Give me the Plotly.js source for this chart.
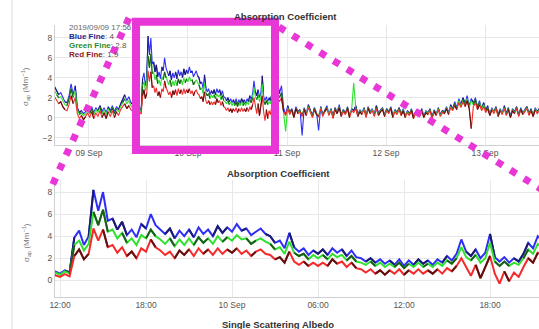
<!DOCTYPE html>
<html>
<head>
<meta charset="utf-8">
<script src="https://cdn.plot.ly/plotly-3.0.1.min.js"></script>
<style>html,body{margin:0;padding:0;background:#fff;}#chart{width:539px;height:329px;}</style>
</head>
<body>
<div id="chart"></div>
<script>
// ---- Data ----
// Section A: every 30 min, from 2019-09-08 15:40
const blueA  = [3.1,2.7,2.3,2.5,2.0,1.6,1.5,2.2,3.4,2.3,3.2,1.0,0.5,0.7,0.4,0.6,1.0,0.6,1.1,0.5,
  1.0,0.7,1.2,0.6,1.0,0.5,1.1,0.7,1.2,0.6,1.1,0.8,1.4,1.8,2.3,1.7,2.1,1.5,1.3,0.9];
const greenA = [2.7,2.3,2.0,2.1,1.7,1.3,1.2,1.9,2.9,2.0,2.7,0.8,0.3,0.5,0.2,0.4,0.8,0.4,0.9,0.3,
  0.8,0.5,1.0,0.4,0.8,0.3,0.9,0.5,1.0,0.4,0.9,0.6,1.1,1.5,1.9,1.4,1.7,1.2,1.0,0.7];
const redA   = [2.1,1.7,1.4,1.6,1.1,0.8,0.7,1.3,2.2,1.4,2.0,0.4,-0.1,0.2,-0.2,0.1,0.5,0.0,0.6,-0.1,
  0.5,0.1,0.7,0.0,0.5,-0.1,0.6,0.1,0.7,0.0,0.6,0.2,0.8,1.1,1.4,0.9,1.2,0.8,0.6,0.4];
// Section B: every 20 min, from 2019-09-09 11:40 (zoomed window)
const blueB = [0.8,0.6,0.9,0.7,3.9,4.5,3.2,4.0,8.2,6.3,
  8.0,5.4,5.6,4.6,5.3,4.1,4.6,3.9,5.1,4.7,
  6.0,5.0,4.6,4.2,4.7,3.8,4.5,4.0,4.6,3.9,
  4.8,4.2,4.6,4.0,4.9,4.3,4.8,4.4,5.1,4.5,
  4.7,4.1,4.4,4.7,4.2,4.0,3.4,3.6,2.9,4.3,
  3.0,2.6,2.9,2.3,2.7,2.4,2.8,2.3,2.9,2.5,
  2.8,2.2,2.7,2.1,2.0,1.7,2.0,1.6,1.9,1.5,
  1.8,1.4,1.9,1.3,1.8,1.4,1.9,1.5,1.8,1.4,
  1.9,1.6,2.2,1.8,2.4,3.7,2.6,2.2,2.8,2.0,
  2.5,4.2,2.1,1.7,2.1,1.6,2.0,1.7,2.4,3.4,
  2.9,4.0,3.6];
const greenB = [0.7,0.5,0.8,0.6,3.2,3.6,2.7,3.3,6.2,5.0,
  6.4,4.4,4.6,3.8,4.3,3.4,3.8,3.2,4.1,3.8,
  4.6,4.0,3.7,3.3,3.8,3.1,3.7,3.2,3.8,3.2,
  3.9,3.4,3.8,3.3,4.0,3.5,3.9,3.6,4.1,3.7,
  3.8,3.3,3.6,3.8,3.5,3.3,2.8,3.0,2.4,3.5,
  2.5,2.2,2.4,1.9,2.3,2.0,2.3,1.9,2.4,2.1,
  2.3,1.8,2.2,1.7,1.6,1.4,1.7,1.3,1.6,1.2,
  1.5,1.2,1.6,1.1,1.5,1.2,1.6,1.2,1.5,1.2,
  1.6,1.3,1.8,1.5,2.0,3.0,2.1,1.8,2.3,1.6,
  2.0,3.4,1.7,1.3,1.7,1.3,1.6,1.4,2.0,2.8,
  2.4,3.3,3.0];
const redB = [0.45,0.3,0.55,0.35,2.2,2.8,1.9,2.4,4.7,3.6,
  4.6,3.0,3.2,2.5,3.0,2.2,2.6,2.0,2.9,2.6,
  3.7,3.0,2.7,2.3,2.6,2.0,2.7,2.3,2.8,2.2,
  2.9,2.4,2.8,2.3,2.9,2.4,2.8,2.5,2.9,2.4,
  2.7,2.2,2.6,2.8,2.4,2.3,1.9,2.1,1.6,2.6,
  1.7,1.4,1.7,1.3,1.6,1.3,1.6,1.3,1.9,1.5,
  1.7,1.2,1.6,1.1,1.0,0.7,1.0,0.6,0.9,0.5,
  0.9,0.6,1.0,0.5,0.9,0.6,1.0,0.6,0.9,0.6,
  1.0,0.6,1.1,0.8,1.3,2.0,1.2,0.4,1.4,0.2,
  1.2,2.2,0.6,-0.3,0.8,-0.1,0.7,0.3,1.2,2.0,
  1.6,2.5,2.2];
// Section C: every 30 min, from 2019-09-10 22:10
const blueC = [2.4,3.2,1.0,0.3,1.2,0.5,0.9,0.2,1.1,0.6,
  0.8,-1.8,1.0,0.4,1.3,0.7,0.2,1.0,0.5,-1.3,
  1.1,0.3,0.8,1.2,0.4,0.9,0.1,1.0,0.6,1.3,
  0.3,0.8,0.5,1.1,0.2,0.9,0.7,1.2,0.3,0.8,
  0.5,1.0,0.2,1.1,0.6,0.9,0.3,1.2,0.4,0.8,
  1.0,0.3,0.9,0.6,1.1,0.2,0.8,0.5,1.0,0.4,
  0.9,0.2,0.7,0.4,0.9,0.1,0.6,0.8,0.3,0.9,
  0.2,0.7,0.5,0.9,0.1,0.8,0.4,1.0,0.3,0.7,
  0.6,1.1,0.5,1.3,0.9,1.6,1.0,1.9,1.3,2.0,
  1.4,2.2,1.2,1.9,1.5,2.0,1.1,1.7,0.9,1.5,
  0.7,1.2,0.4,1.0,0.6,1.1,0.3,0.9,0.5,1.2,
  0.4,1.0,0.2,0.9,0.6,1.1,0.3,1.0,0.5,0.8,
  1.1,0.4,0.9,0.3,1.0,0.6,0.9];
const greenC = [2.0,2.5,0.8,-1.4,1.0,0.4,0.8,0.1,0.9,0.5,
  0.7,0.2,0.9,0.3,1.1,0.6,0.1,0.9,0.4,0.2,
  1.0,0.2,0.7,1.0,0.3,0.8,0.0,0.9,0.5,1.1,
  0.2,0.7,0.4,1.0,0.1,0.8,3.5,1.0,0.2,0.7,
  0.4,0.9,0.1,1.0,0.5,0.8,0.2,1.0,0.3,0.7,
  0.9,0.2,0.8,0.5,1.0,0.1,0.7,0.4,0.9,0.3,
  0.8,0.1,0.6,0.3,0.8,0.0,0.5,0.7,0.2,0.8,
  0.1,0.6,0.4,0.8,0.0,0.7,0.3,0.9,0.2,0.6,
  0.5,1.0,0.4,1.1,0.8,1.4,0.9,1.7,1.1,1.8,
  1.2,1.9,1.0,1.7,1.3,1.8,0.9,1.5,0.8,1.3,
  0.6,1.0,0.3,0.9,0.5,1.0,0.2,0.8,0.4,1.0,
  0.3,0.9,0.1,0.8,0.5,1.0,0.2,0.9,0.4,0.7,
  1.0,0.3,0.8,0.2,0.9,0.5,0.8];
const redC = [1.6,2.0,0.6,0.2,0.9,0.3,0.8,0.0,0.9,0.4,
  0.6,0.1,0.8,0.2,1.0,0.5,0.0,0.8,0.3,0.1,
  0.9,0.1,0.6,0.9,0.2,0.7,-0.1,0.8,0.4,1.0,
  0.1,0.6,0.3,0.9,0.0,0.7,0.5,0.9,0.1,0.6,
  0.3,0.8,0.0,0.9,0.4,0.7,0.1,0.9,0.2,0.6,
  0.8,0.1,0.7,0.4,0.9,0.0,0.6,0.3,0.8,0.2,
  0.7,0.0,0.5,0.2,0.7,-0.1,0.4,0.6,0.1,0.7,
  0.0,0.5,0.3,0.7,-0.1,0.6,0.2,0.8,0.1,0.5,
  0.4,0.9,0.3,1.0,0.7,1.2,0.8,1.5,1.0,1.6,
  1.1,1.7,0.9,-1.1,1.1,1.5,0.8,1.3,0.7,1.1,
  0.5,0.9,0.2,0.8,0.4,0.9,0.1,0.7,0.3,0.9,
  0.2,0.8,0.0,0.7,0.4,0.9,0.1,0.8,0.3,0.6,
  0.9,0.2,0.7,0.1,0.8,0.4,0.7];

const topTickVals = ["2019-09-09","2019-09-10","2019-09-11","2019-09-12","2019-09-13"];
const topTickText = ["09 Sep","10 Sep","11 Sep","12 Sep","13 Sep"];
const botTickVals = ["2019-09-09 12:00","2019-09-09 18:00","2019-09-10 00:00","2019-09-10 06:00","2019-09-10 12:00","2019-09-10 18:00"];
const botTickText = ["12:00","18:00","10 Sep","06:00","12:00","18:00"];

// ---- Build time axis ----
function pad(n){return (n<10?'0':'')+n;}
function times(start, stepMin, n){
  const t0 = Date.parse(start + ':00Z');
  const out = [];
  for (let i=0;i<n;i++){
    const d = new Date(t0 + i*stepMin*60000);
    out.push(d.getUTCFullYear()+'-'+pad(d.getUTCMonth()+1)+'-'+pad(d.getUTCDate())+' '+pad(d.getUTCHours())+':'+pad(d.getUTCMinutes()));
  }
  return out;
}
const t = times('2019-09-08T15:40',30,blueA.length)
  .concat(times('2019-09-09T11:40',20,blueB.length))
  .concat(times('2019-09-10T22:10',30,blueC.length));
const blue = blueA.concat(blueB, blueC);
const green = greenA.concat(greenB, greenC);
const red = redA.concat(redB, redC);

// styling: which stretches of each line are drawn in the darker shade
const darkPattern = [1,1,1,0,0,1,1,0,0,0,1,1,1,1,0,0,1,1,0,0,0];
function darkPart(arr, shift){ return arr.map((v,i)=> darkPattern[(i+shift)%darkPattern.length] ? v : null); }

const series = [
  {y: blue, c: '#2e2ef5', d: '#1c1c6a', s:0},
  {y: green, c: '#2fe02f', d: '#1d5a1d', s:4},
  {y: red, c: '#f52a2a', d: '#5c1212', s:8}
];
const traces = [];
[['x','y',1.1],['x2','y2',2.0]].forEach(ax=>{
  series.forEach(s=>{
    traces.push({x:t, y:s.y, xaxis:ax[0], yaxis:ax[1], type:'scatter', mode:'lines',
      line:{color:s.c, width:ax[2]}, hoverinfo:'skip', showlegend:false});
    traces.push({x:t, y:darkPart(s.y, s.s), xaxis:ax[0], yaxis:ax[1], type:'scatter', mode:'lines',
      connectgaps:false, line:{color:s.d, width:ax[2]}, hoverinfo:'skip', showlegend:false});
  });
});

const W=539, H=329;
const px = v => v/W, py = v => 1 - v/H;
const tickFont = {family:'Liberation Sans, Arial, sans-serif', size:8.5, color:'#555'};
const axisCommon = {showgrid:true, gridcolor:'#e8e8e8', gridwidth:1, zeroline:false,
  showline:true, linecolor:'#d0d0d0', linewidth:1, ticks:'', tickfont:tickFont, fixedrange:true};

const magenta = '#e936d6';
const layout = {
  width:W, height:H, margin:{l:0,r:0,t:0,b:0,pad:0},
  paper_bgcolor:'#fff', plot_bgcolor:'#fff', showlegend:false,
  font:{family:'Liberation Sans, Arial, sans-serif'},
  xaxis: Object.assign({}, axisCommon, {type:'date', domain:[px(55),1], anchor:'y',
    range:['2019-09-08 15:46','2019-09-13 13:05'], tickmode:'array', tickvals:topTickVals, ticktext:topTickText}),
  yaxis: Object.assign({}, axisCommon, {domain:[py(145),py(25)], anchor:'x',
    range:[-2.75,9.3], tickmode:'array', tickvals:[-2,0,2,4,6,8]}),
  xaxis2: Object.assign({}, axisCommon, {type:'date', domain:[px(55),1], anchor:'y2',
    range:['2019-09-09 11:39','2019-09-10 21:25'], tickmode:'array', tickvals:botTickVals, ticktext:botTickText}),
  yaxis2: Object.assign({}, axisCommon, {domain:[py(297),py(180)], anchor:'x2',
    range:[-1.52,9.1], tickmode:'array', tickvals:[0,2,4,6,8]}),
  annotations: [
    {xref:'paper',yref:'paper',x:px(285),y:py(17),text:'<b>Absorption Coefficient</b>',showarrow:false,
      xanchor:'center',yanchor:'middle',font:{size:9.5,color:'#333'}},
    {xref:'paper',yref:'paper',x:px(278),y:py(173),text:'<b>Absorption Coefficient</b>',showarrow:false,
      xanchor:'center',yanchor:'middle',font:{size:9.5,color:'#333'}},
    {xref:'paper',yref:'paper',x:px(278),y:py(324),text:'<b>Single Scattering Albedo</b>',showarrow:false,
      xanchor:'center',yanchor:'middle',font:{size:9.5,color:'#333'}},
    {xref:'paper',yref:'paper',x:px(26),y:py(87),text:'σ<sub>ap</sub> (Mm<sup>−1</sup>)',showarrow:false,
      textangle:-90,xanchor:'center',yanchor:'middle',font:{size:8,color:'#777'}},
    {xref:'paper',yref:'paper',x:px(26),y:py(243),text:'σ<sub>ap</sub> (Mm<sup>−1</sup>)',showarrow:false,
      textangle:-90,xanchor:'center',yanchor:'middle',font:{size:8,color:'#777'}},
    {xref:'paper',yref:'paper',x:px(67),y:py(27),text:'2019/09/09 17:56',showarrow:false,
      xanchor:'left',yanchor:'middle',font:{size:8,color:'#666'}},
    {xref:'paper',yref:'paper',x:px(67),y:py(36.5),text:'<b><span style="color:#25258a">Blue Fine</span></b>: 4',showarrow:false,
      xanchor:'left',yanchor:'middle',font:{size:8,color:'#555'}},
    {xref:'paper',yref:'paper',x:px(67),y:py(46),text:'<b><span style="color:#2e8b2e">Green Fine</span></b>: 2.8',showarrow:false,
      xanchor:'left',yanchor:'middle',font:{size:8,color:'#555'}},
    {xref:'paper',yref:'paper',x:px(67),y:py(55),text:'<b><span style="color:#8b1a1a">Red Fine</span></b>: 1.9',showarrow:false,
      xanchor:'left',yanchor:'middle',font:{size:8,color:'#555'}}
  ],
  shapes: [
    {type:'line',xref:'paper',yref:'paper',x0:px(12),x1:px(12),y0:0,y1:1,line:{color:'#dddddd',width:1},layer:'below'},
    {type:'rect',xref:'paper',yref:'paper',x0:px(136),x1:px(275),y0:py(150),y1:py(21.7),line:{color:magenta,width:8}},
    {type:'line',xref:'paper',yref:'paper',x0:px(129),y0:py(18),x1:px(52),y1:py(186),line:{color:magenta,width:7,dash:'7px,9px'}},
    {type:'line',xref:'paper',yref:'paper',x0:px(279),y0:py(27),x1:px(541),y1:py(189),line:{color:magenta,width:7,dash:'7px,9px'}}
  ]
};
Plotly.newPlot('chart', traces, layout, {staticPlot:true, displayModeBar:false});
</script>
</body>
</html>
